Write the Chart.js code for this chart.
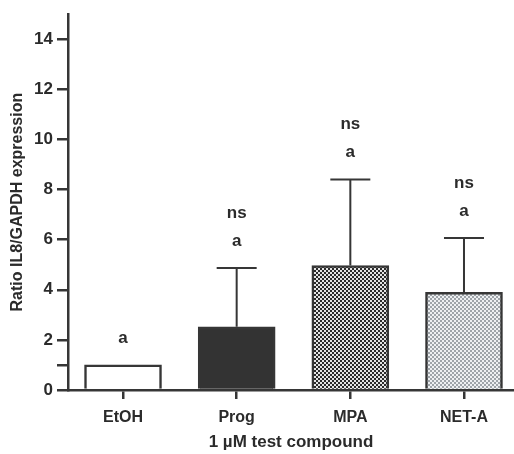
<!DOCTYPE html>
<html>
<head>
<meta charset="utf-8">
<script src="https://cdn.jsdelivr.net/npm/chart.js@4/dist/chart.umd.min.js"></script>
<style>
  html, body { margin: 0; padding: 0; background: #ffffff; }
  #wrap { width: 514px; height: 454px; position: relative; }
</style>
</head>
<body>
<div id="wrap"><canvas id="c" width="514" height="454"></canvas></div>
<script>
// ---- data ----
const categories = ['EtOH', 'Prog', 'MPA', 'NET-A'];
const means = [1.0, 2.52, 4.97, 3.9];
const errUpper = [0, 2.35, 3.43, 2.17];
const letterLabels = ['a', 'a', 'a', 'a'];
const sigLabels = ['', 'ns', 'ns', 'ns'];
const yTickValues = [0, 1, 2, 4, 6, 8, 10, 12, 14];
const yTickLabels = ['0', '', '2', '4', '6', '8', '10', '12', '14'];
const yTitle = 'Ratio IL8/GAPDH expression';
const xTitle = '1 \u00B5M test compound';

// ---- styles ----
const FONT = "'Liberation Sans', Arial, Helvetica, sans-serif";
const INK = '#2b2b2b';

function makePattern(dark, light, cell) {
  const c = document.createElement('canvas');
  c.width = cell * 2; c.height = cell * 2;
  const g = c.getContext('2d');
  g.fillStyle = light; g.fillRect(0, 0, c.width, c.height);
  g.fillStyle = dark;
  g.fillRect(0, 0, cell, cell);
  g.fillRect(cell, cell, cell, cell);
  return g.createPattern(c, 'repeat');
}
const ctx = document.getElementById('c').getContext('2d');
const fills = [
  '#ffffff',
  '#333333',
  makePattern('#2a2a2a', '#e4e4e4', 2),
  makePattern('#9ea4a9', '#eef0f2', 2)
];

const errorBarPlugin = {
  id: 'errorBars',
  afterDatasetsDraw(chart) {
    const { ctx } = chart;
    const xs = chart.scales.x, ys = chart.scales.y;
    ctx.save();
    ctx.strokeStyle = '#363636';
    ctx.lineWidth = 2;
    means.forEach((m, i) => {
      if (!errUpper[i]) return;
      const px = xs.getPixelForValue(i);
      const y0 = ys.getPixelForValue(m);
      const y1 = ys.getPixelForValue(m + errUpper[i]);
      ctx.beginPath();
      ctx.moveTo(px, y0);
      ctx.lineTo(px, y1);
      ctx.moveTo(px - 20, y1);
      ctx.lineTo(px + 20, y1);
      ctx.stroke();
    });
    // significance annotations
    ctx.fillStyle = INK;
    ctx.textAlign = 'center';
    ctx.textBaseline = 'middle';
    ctx.font = 'bold 17px ' + FONT;
    means.forEach((m, i) => {
      const px = xs.getPixelForValue(i);
      const top = ys.getPixelForValue(m + errUpper[i]);
      ctx.fillText(letterLabels[i], px, top - 27);
      if (sigLabels[i]) ctx.fillText(sigLabels[i], px, top - 55);
    });
    ctx.restore();
  }
};

new Chart(ctx, {
  type: 'bar',
  data: {
    datasets: [{
      data: means.map((m, i) => ({ x: i, y: m })),
      backgroundColor: fills,
      borderColor: '#363636',
      borderWidth: 2.5,
      borderSkipped: 'bottom',
      barThickness: 77
    }]
  },
  plugins: [errorBarPlugin],
  options: {
    responsive: false,
    animation: false,
    events: [],
    layout: { padding: { top: 10, left: 0, right: 0, bottom: 0 } },
    plugins: { legend: { display: false }, tooltip: { enabled: false } },
    scales: {
      x: {
        type: 'linear',
        offset: false,
        min: -0.484,
        max: 3.44,
        afterBuildTicks(scale) { scale.ticks = categories.map((c, i) => ({ value: i })); },
        afterFit(scale) { scale.height = 64; },
        ticks: {
          callback: (v) => categories[v] ?? '',
          color: INK,
          font: { family: FONT, size: 16, weight: 'bold' },
          padding: 9,
          maxRotation: 0,
          autoSkip: false
        },
        grid: { display: true, offset: false, drawOnChartArea: false, drawTicks: true, tickLength: 9, color: '#363636', lineWidth: 2.5 },
        border: { display: true, color: '#363636', width: 2.5 },
        title: {
          display: true,
          text: xTitle,
          color: INK,
          font: { family: FONT, size: 17, weight: 'bold' },
          padding: { top: 0, bottom: 1 }
        }
      },
      y: {
        type: 'linear',
        min: 0,
        max: 15,
        afterBuildTicks(scale) { scale.ticks = yTickValues.map(v => ({ value: v })); },
        afterFit(scale) { scale.width = 68; },
        ticks: {
          callback: (v) => { const k = yTickValues.indexOf(v); return k >= 0 ? yTickLabels[k] : ''; },
          color: INK,
          font: { family: FONT, size: 17, weight: 'bold' },
          padding: 4,
          autoSkip: false
        },
        grid: { display: true, drawOnChartArea: false, drawTicks: true, tickLength: 11, color: '#363636', lineWidth: 2.5 },
        border: { display: true, color: '#363636', width: 2.5 },
        title: {
          display: true,
          text: yTitle,
          color: INK,
          font: { family: FONT, size: 16, weight: 'bold' },
          padding: { top: 8, bottom: 0 }
        }
      }
    }
  }
});
</script>
</body>
</html>
